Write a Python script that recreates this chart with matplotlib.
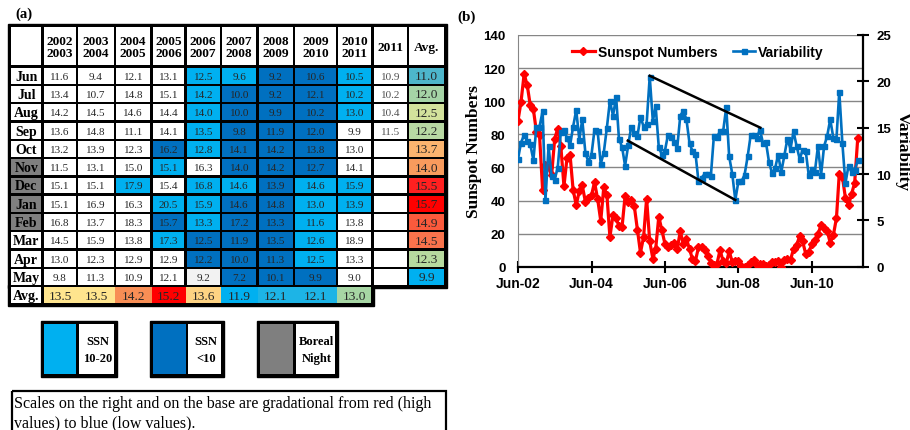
import numpy as np
import pandas as pd
import matplotlib
matplotlib.use('Agg')
import matplotlib.pyplot as plt
import matplotlib.dates as mdates
from matplotlib.patches import Rectangle

# ------------------------------------------------------------------ data (a)
months = ['Jun', 'Jul', 'Aug', 'Sep', 'Oct', 'Nov', 'Dec', 'Jan', 'Feb', 'Mar', 'Apr', 'May']
season_labels = ['2002\n2003', '2003\n2004', '2004\n2005', '2005\n2006', '2006\n2007',
                 '2007\n2008', '2008\n2009', '2009\n2010', '2010\n2011', '2011', 'Avg.']
var_2002_03 = [11.6, 13.4, 14.2, 13.6, 13.2, 11.5, 15.1, 15.1, 16.8, 14.5, 13.0, 9.8]
var_2003_04 = [9.4, 10.7, 14.5, 14.8, 13.9, 13.1, 15.1, 16.9, 13.7, 15.9, 12.3, 11.3]
var_2004_05 = [12.1, 14.8, 14.6, 11.1, 12.3, 15.0, 17.9, 16.3, 18.3, 13.8, 12.9, 10.9]
var_2005_06 = [13.1, 15.1, 14.4, 14.1, 16.2, 15.1, 15.4, 20.5, 15.7, 17.3, 12.9, 12.1]
var_2006_07 = [12.5, 14.2, 14.0, 13.5, 12.8, 16.3, 16.8, 15.9, 13.3, 12.5, 12.2, 9.2]
var_2007_08 = [9.6, 10.0, 10.0, 9.8, 14.1, 14.0, 14.6, 14.6, 17.2, 11.9, 10.0, 7.2]
var_2008_09 = [9.2, 9.2, 9.9, 11.9, 14.2, 14.2, 13.9, 14.8, 13.3, 13.5, 11.3, 10.1]
var_2009_10 = [10.6, 12.1, 10.2, 12.0, 13.8, 12.7, 14.6, 13.0, 11.6, 12.6, 12.5, 9.9]
var_2010_11 = [10.5, 10.2, 13.0, 9.9, 13.0, 14.1, 15.9, 13.9, 13.8, 18.9, 13.3, 9.0]
var_2011 = [10.9, 10.2, 10.4, 11.5]
avg_by_month = [11.0, 12.0, 12.5, 12.2, 13.7, 14.0, 15.5, 15.7, 14.9, 14.5, 12.3, 9.9]
avg_by_season = [13.5, 13.5, 14.2, 15.2, 13.6, 11.9, 12.1, 12.1, 13.0]
boreal_night = ['Nov', 'Dec', 'Jan', 'Feb']

# cell shading: W white, L = SSN 10-20, D = SSN <10, G = pale grey
shade_2002_03 = 'WWWWWWWWWWWW'
shade_2003_04 = 'WWWWWWWWWWWW'
shade_2004_05 = 'WWWWWWLWWWWW'
shade_2005_06 = 'WWWWDLWLDLWW'
shade_2006_07 = 'LLLLLWLLLDDG'
shade_2007_08 = 'LDDDDDLDDDDD'
shade_2008_09 = 'DDDDDDDDDDDD'
shade_2009_10 = 'DDDDDDLLLLLD'
shade_2010_11 = 'LLLWWWLLWWWW'

# ------------------------------------------------------------------ data (b)
sunspots = [88.3, 99.6, 116.4, 109.6, 97.5, 95.0, 81.6,
            79.5, 46.2, 61.5, 60.0, 55.2, 77.4, 83.3, 72.7, 48.7, 65.5, 67.3, 46.5,
            37.3, 45.8, 49.1, 39.3, 41.5, 43.2, 51.1, 40.9, 27.7, 48.0, 43.5, 17.9,
            31.3, 29.2, 24.5, 24.2, 42.7, 39.3, 40.1, 36.4, 22.1, 8.5, 18.0, 41.2,
            15.3, 4.9, 10.6, 30.2, 22.3, 13.9, 12.2, 12.9, 14.4, 10.5, 21.4, 13.6,
            16.9, 10.6, 4.8, 3.7, 11.7, 12.0, 10.0, 6.2, 2.4, 0.9, 1.7, 10.1,
            3.3, 2.1, 9.3, 2.9, 3.2, 3.4, 0.5, 0.0, 1.1, 2.9, 4.1, 0.8,
            1.5, 1.4, 0.7, 1.2, 2.9, 2.6, 3.5, 0.0, 4.2, 4.6, 4.2, 10.6,
            13.1, 18.6, 15.4, 7.9, 8.8, 13.5, 16.1, 19.6, 25.2, 23.5, 21.6, 14.5,
            19.0, 29.4, 56.2, 54.4, 41.6, 37.0, 43.9, 50.6, 78.0]
variability = [11.6, 13.4, 14.2, 13.6, 13.2, 11.5, 15.1, 15.1, 16.8, 7.2, 13.0, 9.8,
               9.4, 10.7, 14.5, 14.8, 13.9, 13.1, 15.1, 16.9, 13.7, 15.9, 12.3, 11.3,
               12.1, 14.8, 14.6, 11.1, 12.3, 15.0, 17.9, 16.3, 18.3, 13.8, 12.9, 10.9,
               13.1, 15.1, 14.4, 14.1, 16.2, 15.1, 15.4, 20.5, 15.7, 17.3, 12.9, 12.1,
               12.5, 14.2, 14.0, 13.5, 12.8, 16.3, 16.8, 15.9, 13.3, 12.5, 12.2, 9.2,
               9.6, 10.0, 10.0, 9.8, 14.1, 14.0, 14.6, 14.6, 17.2, 11.9, 10.0, 7.2,
               9.2, 9.2, 9.9, 11.9, 14.2, 14.2, 13.9, 14.8, 13.3, 13.5, 11.3, 10.1,
               10.6, 12.1, 10.2, 12.0, 13.8, 12.7, 14.6, 13.0, 11.6, 12.6, 12.5, 9.9,
               10.5, 10.2, 13.0, 9.9, 13.0, 14.1, 15.9, 13.9, 13.8, 18.9, 13.3, 9.0,
               10.9, 10.2, 10.4, 11.5]
start_month = '2002-06-01'
tick_dates = ['2002-06-01', '2004-06-01', '2006-06-01', '2008-06-01', '2010-06-01']
trend_upper_dates = ['2006-01-01', '2009-01-05']
trend_upper_vals = [20.6, 15.0]
trend_lower_dates = ['2005-05-28', '2008-05-01']
trend_lower_vals = [13.6, 7.2]

# ------------------------------------------------------------------ styles
SERIF = ['Liberation Serif', 'DejaVu Serif']
SANS = ['Liberation Sans', 'DejaVu Sans']
SHADE = {'W': 'white', 'L': '#00B0F0', 'D': '#0070C0', 'G': '#F2F2F2'}
avg_month_colors = ['#4DB6CB', '#A5D4A6', '#D3E29C', '#B8D9A3', '#FBB46F', '#F89B5D',
                    '#FF2020', '#FF0000', '#FB5A3C', '#F9734C', '#B7DA9E', '#00B0F0']
avg_season_colors = ['#FFE58E', '#FFE58E', '#F88E55', '#FF0000', '#FED383', '#00B0F0',
                     '#1DB4E6', '#1DB4E6', '#A7D6A4']

fig = plt.figure(figsize=(9.1, 4.31), dpi=100)
fig.patch.set_facecolor('white')

# ------------------------------------------------------------------ panel (a)
ta = fig.add_axes([0, 0, 1, 1])
ta.set_xlim(0, 910)
ta.set_ylim(431, 0)
ta.axis('off')

col_edges = [10, 42.5, 77, 115, 151.5, 185.5, 221, 257.5, 294, 337, 372.5, 408, 445]
row_edges = [27, 67.5] + [67.5 + 18.3 * k for k in range(1, 13)] + [305.5]
g = 1.2

ta.add_patch(Rectangle((8.2, 25.3), 447.0 - 8.2, 289 - 25.3, color='black', zorder=1))
ta.add_patch(Rectangle((8.2, 286), 374.2 - 8.2, 307.3 - 286, color='black', zorder=1))


def cell(c0, c1, r0, r1, color, text='', size=8, weight='normal', tcolor='#262626',
         gl=g, gr=g):
    x0, x1 = col_edges[c0] + gl, col_edges[c1] - gr
    y0, y1 = row_edges[r0] + g, row_edges[r1] - g
    ta.add_patch(Rectangle((x0, y0), x1 - x0, y1 - y0, color=color, zorder=2, lw=0))
    if text:
        ta.text((x0 + x1) / 2, (y0 + y1) / 2 + 0.5, text, ha='center', va='center',
                fontsize=size, fontweight=weight, family=SERIF, color=tcolor,
                linespacing=1.05, zorder=3)


# header
cell(0, 1, 0, 1, 'white')
for j, lab in enumerate(season_labels):
    cell(j + 1, j + 2, 0, 1, 'white', lab, size=9.6, weight='bold', tcolor='black')

columns = [var_2002_03, var_2003_04, var_2004_05, var_2005_06, var_2006_07,
           var_2007_08, var_2008_09, var_2009_10, var_2010_11]
shades = [shade_2002_03, shade_2003_04, shade_2004_05, shade_2005_06, shade_2006_07,
          shade_2007_08, shade_2008_09, shade_2009_10, shade_2010_11]
for i, m in enumerate(months):
    r = i + 1
    cell(0, 1, r, r + 1, '#7F7F7F' if m in boreal_night else 'white', m, size=10,
         weight='bold', tcolor='black')
    for j, (vals, sh) in enumerate(zip(columns, shades)):
        cell(j + 1, j + 2, r, r + 1, SHADE[sh[i]], f'{vals[i]:.1f}', size=8)
    cell(10, 11, r, r + 1, 'white', f'{var_2011[i]:.1f}' if i < len(var_2011) else '',
         size=8, tcolor='#505050')
    cell(11, 12, r, r + 1, avg_month_colors[i], f'{avg_by_month[i]:.1f}', size=9.6)

# average row
cell(0, 1, 13, 14, 'white', 'Avg.', size=10, weight='bold', tcolor='black')
for j, v in enumerate(avg_by_season):
    cell(j + 1, j + 2, 13, 14, avg_season_colors[j], f'{v:.1f}', size=9.6,
         gl=(g if j == 0 else 0), gr=(g if j == len(avg_by_season) - 1 else 0))

# legend boxes
legend_items = [('#00B0F0', 'SSN\n10-20', 41, 77, 116.7),
                ('#0070C0', 'SSN\n<10', 150, 186.7, 224),
                ('#7F7F7F', 'Boreal\nNight', 257.3, 294, 337.7)]
ly0, ly1, b = 322.3, 377.7, 2.6
for col, lab, xa, xm, xb in legend_items:
    ta.add_patch(Rectangle((xa, ly0), xb - xa, ly1 - ly0, color='black', zorder=2))
    ta.add_patch(Rectangle((xa + b, ly0 + b), xm - xa - b - 1, ly1 - ly0 - 2 * b,
                           color=col, zorder=3, lw=0))
    ta.add_patch(Rectangle((xm + 1.5, ly0 + b), xb - xm - 1.5 - b, ly1 - ly0 - 2 * b,
                           color='white', zorder=3, lw=0))
    ta.text((xm + xb) / 2 + 0.5, (ly0 + ly1) / 2 + 0.5, lab, ha='center', va='center',
            fontsize=9, fontweight='bold', family=SERIF, color='black',
            linespacing=1.6, zorder=4)

# note box
ta.add_patch(Rectangle((11.5, 392.5), 434, 50, fill=False, edgecolor='black', lw=1.6,
                       zorder=2))
ta.text(13.5, 404, 'Scales on the right and on the base are gradational from red (high',
        ha='left', va='center', fontsize=11.5, family=SERIF, color='black')
ta.text(13.5, 423.5, 'values) to blue (low values).', ha='left', va='center',
        fontsize=11.5, family=SERIF, color='black')

ta.text(15, 14.5, '(a)', ha='left', va='center', fontsize=10.5, fontweight='bold',
        family=SERIF)
ta.text(457, 17, '(b)', ha='left', va='center', fontsize=11, fontweight='bold',
        family=SERIF)

# ------------------------------------------------------------------ panel (b)
dates = pd.date_range(start_month, periods=len(sunspots), freq='MS')
L, R, T, B = 518, 862.7, 36, 267.7
ax = fig.add_axes([L / 910, 1 - B / 431, (R - L) / 910, (B - T) / 431])
ax2 = ax.twinx()

ax.plot(dates, sunspots, color='#FF0000', lw=2.3, marker='D', ms=4,
        label='Sunspot Numbers', zorder=3)
ax2.plot(dates, variability, color='#0070C0', lw=1.9, marker='s', ms=3.6,
         label='Variability', zorder=3)
ax2.plot(pd.to_datetime(trend_upper_dates), trend_upper_vals, color='black', lw=1.8,
         zorder=4)
ax2.plot(pd.to_datetime(trend_lower_dates), trend_lower_vals, color='black', lw=1.8,
         zorder=4)

ax.set_xlim(pd.Timestamp('2002-06-01'), pd.Timestamp('2011-10-20'))
ax.set_ylim(0, 140)
ax2.set_ylim(0, 25)
ax.set_yticks(np.arange(0, 141, 20))
ax2.set_yticks(np.arange(0, 26, 5))
ax.set_xticks(pd.to_datetime(tick_dates))
ax.xaxis.set_major_formatter(mdates.DateFormatter('%b-%y'))
ax.grid(axis='y', color='#868686', lw=1.0)
ax.set_axisbelow(True)

for a in (ax, ax2):
    for s in a.spines.values():
        s.set_visible(False)
ax.spines['left'].set_visible(True)
ax.spines['left'].set_color('#868686')
ax.spines['bottom'].set_visible(True)
ax.spines['bottom'].set_color('black')
ax.spines['bottom'].set_linewidth(1.6)
ax2.spines['right'].set_visible(True)
ax2.spines['right'].set_color('black')
ax2.spines['right'].set_linewidth(1.6)

ax.tick_params(axis='y', length=0, pad=9, labelsize=9.5)
ax.tick_params(axis='x', direction='inout', length=8, width=1.5, pad=3, labelsize=10)
ax2.tick_params(axis='y', direction='inout', length=8, width=1.5, pad=6, labelsize=9.5)
for lab in ax.get_xticklabels() + ax.get_yticklabels() + ax2.get_yticklabels():
    lab.set_family(SANS)
    lab.set_fontweight('bold')

ax.set_ylabel('Sunspot Numbers', family=SERIF, fontweight='bold', fontsize=12.5,
              labelpad=1)
ax2.set_ylabel('Variability', family=SERIF, fontweight='bold', fontsize=12.5,
               rotation=270, labelpad=14)

h1, l1 = ax.get_legend_handles_labels()
h2, l2 = ax2.get_legend_handles_labels()
ax2.legend(h1 + h2, l1 + l2, loc='center', bbox_to_anchor=(0.522, 0.927), ncol=2,
           frameon=False, handlelength=1.65, columnspacing=1.1, handletextpad=0.2,
           prop={'family': SANS, 'weight': 'bold', 'size': 10})

fig.savefig('out.png', dpi=100, facecolor='white')
